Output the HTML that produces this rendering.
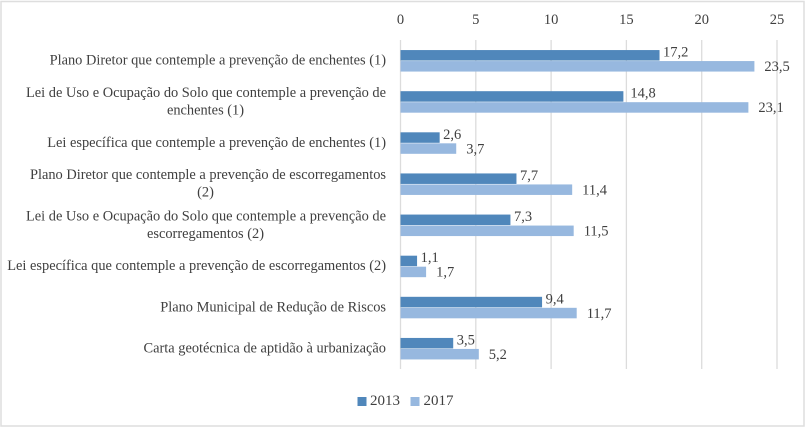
<!DOCTYPE html>
<html lang="pt">
<head>
<meta charset="utf-8">
<title>Gráfico</title>
<style>
html,body{margin:0;padding:0;background:#fff;}
#chart{display:block;width:806px;height:428px;}
text{font-family:"Liberation Serif",serif;fill:#3f3f3f;}
</style>
</head>
<body>
<svg id="chart" xmlns="http://www.w3.org/2000/svg" width="806" height="428" viewBox="0 0 806 428">
<rect x="1" y="1.5" width="803" height="424.5" fill="#fff" stroke="#dedede" stroke-width="1.5"></rect>
<g id="grid"></g>
<g id="bars"></g>
<g id="labels"></g>
<g>
<rect x="357.5" y="397" width="9" height="9" fill="#5087bb"></rect>
<text x="370" y="405" font-size="15">2013</text>
<rect x="410.5" y="397" width="9" height="9" fill="#97b8df"></rect>
<text x="423.5" y="405" font-size="15">2017</text>
</g>
</svg>
<script>
const categoryLines = [
  ["Plano Diretor que contemple a prevenção de enchentes (1)"],
  ["Lei de Uso e Ocupação do Solo que contemple a prevenção de", "enchentes (1)"],
  ["Lei específica que contemple a prevenção de enchentes (1)"],
  ["Plano Diretor que contemple a prevenção de escorregamentos", "(2)"],
  ["Lei de Uso e Ocupação do Solo que contemple a prevenção de", "escorregamentos (2)"],
  ["Lei específica que contemple a prevenção de escorregamentos (2)"],
  ["Plano Municipal de Redução de Riscos"],
  ["Carta geotécnica de aptidão à urbanização"]
];
const values2013 = [17.2, 14.8, 2.6, 7.7, 7.3, 1.1, 9.4, 3.5];
const values2017 = [23.5, 23.1, 3.7, 11.4, 11.5, 1.7, 11.7, 5.2];
const xTicks = [0, 5, 10, 15, 20, 25];

const NS = 'http://www.w3.org/2000/svg';
const plotLeft = 400.5, plotRight = 777, plotTop = 40, plotBottom = 369;
const xMax = 25;
const x = v => plotLeft + (v / xMax) * (plotRight - plotLeft);
const bandH = (plotBottom - plotTop) / categoryLines.length;
const bandMid = i => plotTop + bandH * (i + 0.5);
const barH = 10.5;
const fmt = v => v.toFixed(1).replace('.', ',');

function make(tag, attrs, parent, txt) {
  const el = document.createElementNS(NS, tag);
  for (const k in attrs) el.setAttribute(k, attrs[k]);
  if (txt !== undefined) el.textContent = txt;
  parent.appendChild(el);
  return el;
}
const grid = document.getElementById('grid');
const bars = document.getElementById('bars');
const labels = document.getElementById('labels');

xTicks.forEach(t => {
  const line = make('line', {x1: x(t), x2: x(t), y1: plotTop, y2: plotBottom, stroke: '#dcdcdc', 'stroke-width': 1.3}, grid);
  
  
  const label = make('text', {x: x(t), y: 24, 'text-anchor': 'middle', 'font-size': 14.5}, labels, String(t));
  
  
});

categoryLines.forEach((lines, i) => {
  const mid = bandMid(i);
  const longest = 386;
  lines.forEach((ln, j) => {
    const y = mid + 4 + (j - (lines.length - 1) / 2) * 17.5;
    const isCentered = lines.length > 1 && j > 0;
    const t = make('text', {y: y, 'font-size': 14.4}, labels, ln);
    t.setAttribute('x', longest);
    t.setAttribute('text-anchor', 'end');
    
    
    if (isCentered) {
      t.setAttribute('x', 205.5);
      t.setAttribute('text-anchor', 'middle');
    }
  });

  const bar13 = make('rect', {x: x(0), y: mid - barH, width: x(values2013[i]) - x(0), height: barH, fill: '#5087bb'}, bars);
  
  
  const bar17 = make('rect', {x: x(0), y: mid + 0.5, width: x(values2017[i]) - x(0), height: barH, fill: '#97b8df'}, bars);
  
  

  const extra13 = i === 1 ? 3.5 : 0;
  const v13 = make('text', {x: x(values2013[i]) + 3.5 + extra13, y: mid - 4, 'font-size': 14.5}, labels, fmt(values2013[i]));
  
  
  const v17 = make('text', {x: x(values2017[i]) + 10, y: mid + 10.5, 'font-size': 14.5}, labels, fmt(values2017[i]));
  
  
});
</script>
</body>
</html>
